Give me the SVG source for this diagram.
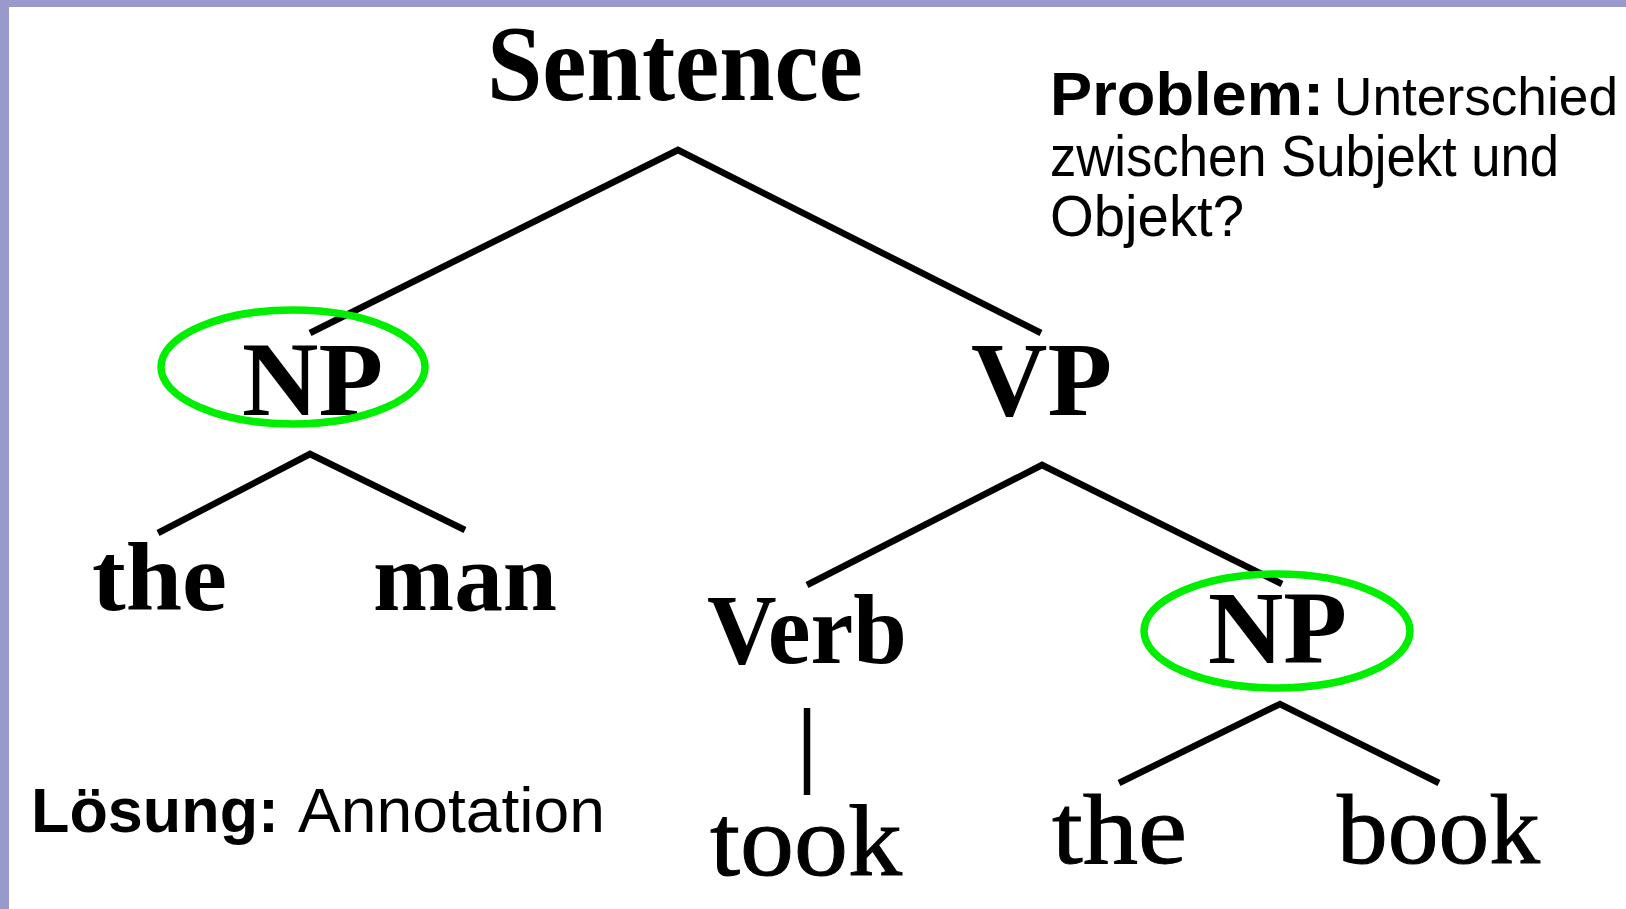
<svg xmlns="http://www.w3.org/2000/svg" width="1626" height="909" viewBox="0 0 1626 909">
<style>
.tree{font-family:"Liberation Serif","Times New Roman",serif;fill:#000}
.b{font-weight:bold}
.thin{stroke:#000;stroke-width:1}
.sans{font-family:"Liberation Sans",Arial,sans-serif;fill:#000}
.edge{fill:none;stroke:#000;stroke-width:6.5;stroke-linejoin:miter}
.ring{fill:none;stroke:#00ee00;stroke-width:7.5}
</style>
<rect width="1626" height="909" fill="#fff"/>
<rect x="0" y="0" width="1626" height="7" fill="#9999cc"/>
<rect x="0" y="0" width="9" height="909" fill="#9999cc"/>

<g id="connectors">
<polyline class="edge" points="310,333 678,150 1041,333"/>
<polyline class="edge" points="158,533 310,454 465,530"/>
<polyline class="edge" points="807,585 1042,465 1282,584"/>
<line class="edge" x1="807" y1="708" x2="807" y2="795"/>
<polyline class="edge" points="1119,783 1280,704 1439,783"/>
</g>

<g id="node-sentence"><text class="tree b" x="487" y="100" font-size="108" textLength="376" lengthAdjust="spacingAndGlyphs">Sentence</text></g>
<g id="node-np1"><text class="tree b" x="242" y="415" font-size="106" textLength="141" lengthAdjust="spacingAndGlyphs">NP</text><ellipse class="ring" cx="293" cy="367" rx="132" ry="57"/></g>
<g id="node-vp"><text class="tree b" x="971" y="415" font-size="106" textLength="141" lengthAdjust="spacingAndGlyphs">VP</text></g>
<g id="node-the1"><text class="tree b" x="92" y="610" font-size="98" textLength="135" lengthAdjust="spacingAndGlyphs">the</text></g>
<g id="node-man"><text class="tree b" x="373" y="610" font-size="98" textLength="184" lengthAdjust="spacingAndGlyphs">man</text></g>
<g id="node-verb"><text class="tree b" x="707" y="663" font-size="100" textLength="200" lengthAdjust="spacingAndGlyphs">Verb</text></g>
<g id="node-np2"><text class="tree b" x="1208" y="663" font-size="104" textLength="139" lengthAdjust="spacingAndGlyphs">NP</text><ellipse class="ring" cx="1277" cy="631" rx="133" ry="57"/></g>
<g id="node-took"><text class="tree thin" x="710" y="875" font-size="102" textLength="192" lengthAdjust="spacingAndGlyphs">took</text></g>
<g id="node-the2"><text class="tree thin" x="1052" y="863" font-size="100" textLength="135" lengthAdjust="spacingAndGlyphs">the</text></g>
<g id="node-book"><text class="tree thin" x="1337" y="863" font-size="100" textLength="203" lengthAdjust="spacingAndGlyphs">book</text></g>

<g id="problem">
<text class="sans" font-size="62" font-weight="bold" x="1050" y="115" textLength="274" lengthAdjust="spacingAndGlyphs">Problem:</text>
<text class="sans" font-size="54" x="1334" y="115" textLength="284" lengthAdjust="spacingAndGlyphs">Unterschied</text>
<text class="sans" font-size="58" x="1050" y="176" textLength="509" lengthAdjust="spacingAndGlyphs">zwischen Subjekt und</text>
<text class="sans" font-size="58" x="1050" y="236" textLength="194" lengthAdjust="spacingAndGlyphs">Objekt?</text>
</g>
<g id="loesung">
<text class="sans" font-size="63" font-weight="bold" x="31" y="832" textLength="248" lengthAdjust="spacingAndGlyphs">Lösung:</text>
<text class="sans" font-size="63" x="298" y="832" textLength="307" lengthAdjust="spacingAndGlyphs">Annotation</text>
</g>
</svg>
